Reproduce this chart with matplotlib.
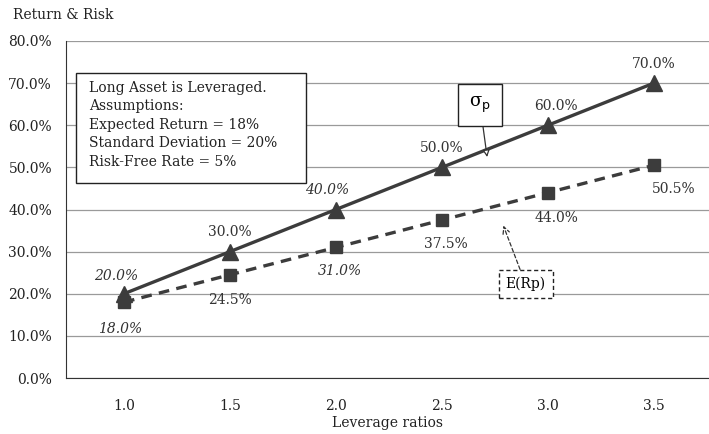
import matplotlib.pyplot as plt
from matplotlib.patches import Rectangle

plt.rcParams['font.family'] = ['DejaVu Serif']

leverage = ['1.0', '1.5', '2.0', '2.5', '3.0', '3.5']
sigma_p = [20.0, 30.0, 40.0, 50.0, 60.0, 70.0]
exp_ret = [18.0, 24.5, 31.0, 37.5, 44.0, 50.5]
sigma_italic = [True, False, True, False, False, False]
ret_italic = [True, False, True, False, False, False]
yticks = [0, 10, 20, 30, 40, 50, 60, 70, 80]

fig = plt.figure(figsize=(7.09, 4.34), dpi=100)
ax = fig.add_axes([66 / 709, 56 / 434, 643 / 709, 337 / 434])

x = list(range(len(leverage)))
dark = '#3c3c3c'

for v in yticks:
    ax.axhline(v, color='#9a9a9a', lw=0.9, zorder=0)

ax.plot(x, sigma_p, color=dark, lw=2.4, marker='^', markersize=11, zorder=3)
ax.plot(x, exp_ret, color=dark, lw=2.4, linestyle=(0, (3.2, 2.2)),
        marker='s', markersize=9, zorder=3)

# value labels
sig_off = [(-6, 8), (0, 9), (-6, 9), (0, 9), (6, 9), (0, 9)]
for i, v in enumerate(sigma_p):
    ax.annotate('%.1f%%' % v, (i, v), xytext=sig_off[i], textcoords='offset points',
                ha='center', va='bottom', fontsize=10, color='#333333',
                style='italic' if sigma_italic[i] else 'normal')
ret_off = [(-3, -14), (0, -13), (3, -12), (3, -12), (6, -13), (14, -12)]
for i, v in enumerate(exp_ret):
    ax.annotate('%.1f%%' % v, (i, v), xytext=ret_off[i], textcoords='offset points',
                ha='center', va='top', fontsize=10, color='#333333',
                style='italic' if ret_italic[i] else 'normal')

# assumptions box
ax.add_patch(Rectangle((-0.453, 46.3), 2.17, 26.1, fill=True, fc='white', ec='#222222',
                       lw=1.0, zorder=4))
ax.text(-0.33, 70.6, 'Long Asset is Leveraged.\nAssumptions:\nExpected Return = 18%\n'
        'Standard Deviation = 20%\nRisk-Free Rate = 5%',
        ha='left', va='top', fontsize=10, linespacing=1.42, color='#222222', zorder=5)

# sigma_p callout
ax.annotate('σ$_\\mathrm{p}$', xy=(3.43, 51.8), xytext=(3.36, 64.8),
            ha='center', va='center', fontsize=13,
            bbox=dict(boxstyle='square,pad=0.6', fc='white', ec='#222222', lw=1.0),
            arrowprops=dict(arrowstyle='-|>', color='#333333', lw=0.9,
                            mutation_scale=10, fc='white', shrinkA=0),
            zorder=5)

# E(Rp) callout
ax.annotate('E(Rp)', xy=(3.57, 36.8), xytext=(3.79, 22.3),
            ha='center', va='center', fontsize=10,
            bbox=dict(boxstyle='square,pad=0.5', fc='white', ec='#222222', lw=1.0,
                      linestyle=(0, (3, 2))),
            arrowprops=dict(arrowstyle='->', color='#333333', lw=0.9,
                            linestyle=(0, (3, 2)), mutation_scale=12, shrinkA=0),
            zorder=5)

ax.set_xlim(-0.547, 5.52)
ax.set_ylim(0, 80)
ax.set_xticks(x)
ax.set_xticklabels(leverage)
ax.set_yticks(yticks)
ax.set_yticklabels(['%.1f%%' % v for v in yticks])
ax.tick_params(axis='both', length=0, labelsize=10, colors='#222222')
ax.tick_params(axis='y', pad=10)
ax.tick_params(axis='x', pad=15)
ax.set_xlabel('Leverage ratios', fontsize=10, labelpad=2, color='#222222')

for s in ['top', 'right']:
    ax.spines[s].set_visible(False)
ax.spines['left'].set_color('#333333')
ax.spines['bottom'].set_color('#333333')

fig.text(13 / 709, 1 - 15 / 434, 'Return & Risk', ha='left', va='center',
         fontsize=10, color='#222222')

fig.savefig('out.png', dpi=100)
